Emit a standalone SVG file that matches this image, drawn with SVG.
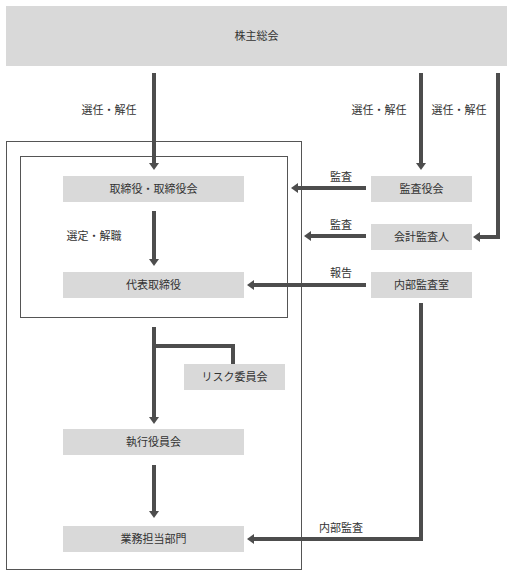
<svg xmlns="http://www.w3.org/2000/svg" width="513" height="577" viewBox="0 0 513 577">
<style>
.box{fill:#d9d9d9}
.frame{fill:none;stroke:#555;stroke-width:1}
.t{font-family:"Noto Sans CJK JP","Noto Sans",sans-serif;font-size:11px;fill:#333;text-anchor:middle}
.c{fill:none;stroke:#4d4d4d;stroke-width:4}
.a{marker-end:url(#ah)}
</style>
<defs>
<marker id="ah" viewBox="0 0 7 10" refX="1" refY="5" markerWidth="7" markerHeight="10" markerUnits="userSpaceOnUse" orient="auto">
<path d="M0,0 L7,5 L0,10 z" fill="#4d4d4d"/>
</marker>
</defs>
<rect x="0" y="0" width="513" height="577" fill="#fff"/>
<g id="frames">
<rect class="frame" x="6.5" y="141.5" width="295" height="428"/>
<rect class="frame" x="20.5" y="156.5" width="267" height="161"/>
</g>
<g id="connectors">
<path class="c a" d="M154,73 V164"/>
<path class="c a" d="M421,73 V164"/>
<path class="c a" d="M498,73 V237 H479"/>
<path class="c a" d="M366,188 H297"/>
<path class="c a" d="M366,236 H310"/>
<path class="c a" d="M366,285 H253"/>
<path class="c a" d="M154,211 V260"/>
<path class="c a" d="M154,327 V418"/>
<path class="c" d="M154,346 H233 V364"/>
<path class="c a" d="M154,465 V512"/>
<path class="c a" d="M421,303 V539 H253"/>
</g>
<g id="labels">
<text class="t" x="109" y="114">選任・解任</text>
<text class="t" x="379" y="114">選任・解任</text>
<text class="t" x="459" y="114">選任・解任</text>
<text class="t" x="341" y="181">監査</text>
<text class="t" x="341" y="229">監査</text>
<text class="t" x="341" y="277">報告</text>
<text class="t" x="94" y="240">選定・解職</text>
<text class="t" x="341" y="532">内部監査</text>
</g>
<g id="n-shareholders"><rect class="box" x="6" y="6" width="501" height="60"/><text class="t" x="256.5" y="40">株主総会</text></g>
<g id="n-board"><rect class="box" x="63" y="176" width="181" height="26"/><text class="t" x="153.5" y="193">取締役・取締役会</text></g>
<g id="n-auditboard"><rect class="box" x="371" y="176" width="101" height="26"/><text class="t" x="421.5" y="193">監査役会</text></g>
<g id="n-accountant"><rect class="box" x="371" y="224" width="101" height="26"/><text class="t" x="421.5" y="241">会計監査人</text></g>
<g id="n-internal"><rect class="box" x="371" y="272" width="101" height="26"/><text class="t" x="421.5" y="289">内部監査室</text></g>
<g id="n-rep"><rect class="box" x="63" y="272" width="181" height="26"/><text class="t" x="153.5" y="289">代表取締役</text></g>
<g id="n-risk"><rect class="box" x="184" y="364" width="101" height="26"/><text class="t" x="234.5" y="381">リスク委員会</text></g>
<g id="n-exec"><rect class="box" x="63" y="429" width="181" height="26"/><text class="t" x="153.5" y="446">執行役員会</text></g>
<g id="n-ops"><rect class="box" x="63" y="526" width="181" height="26"/><text class="t" x="153.5" y="543">業務担当部門</text></g>
</svg>
